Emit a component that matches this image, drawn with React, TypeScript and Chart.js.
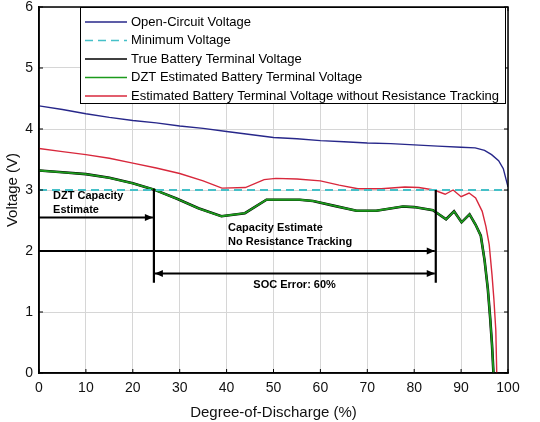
import { useEffect, useRef } from "react";
import { Chart, registerables } from "chart.js";

Chart.register(...registerables);

// open-circuit voltage
const ocvDod = [0, 5, 10, 15, 20, 25, 30, 35, 40, 45, 50, 55, 60, 65, 70, 75, 80, 85, 90, 93, 95, 96.5, 98, 99, 100];
const ocvVolt = [4.38, 4.32, 4.25, 4.19, 4.14, 4.1, 4.05, 4.01, 3.96, 3.91, 3.86, 3.84, 3.81, 3.79, 3.77, 3.76, 3.74, 3.72, 3.7, 3.69, 3.65, 3.58, 3.48, 3.35, 3.05];

// minimum voltage
const minDod = [0, 100];
const minVolt = [3.0, 3.0];

// true terminal voltage
const trueDod = [0, 5, 10, 15, 20, 24.4, 29.3, 34, 38.9, 43.9, 48.5, 55.6, 58.4, 63, 67.7, 71.9, 77.6, 80, 84, 86.8, 88.5, 90.1, 91.8, 93.1, 94.2, 95, 95.7, 96.2, 96.6, 96.9];
const trueVolt = [3.32, 3.29, 3.26, 3.2, 3.11, 3.01, 2.86, 2.7, 2.57, 2.62, 2.84, 2.84, 2.82, 2.74, 2.66, 2.66, 2.73, 2.72, 2.67, 2.52, 2.65, 2.47, 2.6, 2.43, 2.25, 1.85, 1.38, 0.9, 0.45, 0];

// DZT estimate
const dztDod = [0, 5, 10, 15, 20, 24.4, 29.3, 34, 38.9, 43.9, 48.5, 55.6, 58.4, 63, 67.7, 71.9, 77.6, 80, 84, 86.8, 88.5, 90.1, 91.8, 93.1, 94.2, 95, 95.7, 96.2, 96.6, 96.9];
const dztVolt = [3.32, 3.29, 3.26, 3.2, 3.11, 3.01, 2.86, 2.7, 2.57, 2.62, 2.84, 2.84, 2.82, 2.74, 2.66, 2.66, 2.73, 2.72, 2.67, 2.52, 2.65, 2.47, 2.6, 2.43, 2.25, 1.85, 1.38, 0.9, 0.45, 0];

// estimate without resistance tracking
const estDod = [0, 5, 10, 15, 20, 25, 30, 35, 39, 44, 48, 50.5, 55, 60, 64, 68, 73, 78, 81, 84.2, 86.6, 88.3, 90, 91.7, 93.1, 94.5, 95.3, 96, 96.6, 97, 97.4, 97.6];
const estVolt = [3.68, 3.63, 3.58, 3.52, 3.44, 3.36, 3.27, 3.15, 3.03, 3.04, 3.17, 3.19, 3.18, 3.15, 3.08, 3.02, 3.02, 3.05, 3.04, 3.0, 2.93, 3.0, 2.89, 2.95, 2.87, 2.65, 2.4, 2.1, 1.6, 1.2, 0.7, 0];

const dztCapacity = 24.5;
const noRtCapacity = 84.6;

const xTicks = [0, 100, 10];
const yTicks = [0, 6, 1];

const pts = (xs: number[], ys: number[]) => xs.map((x, i) => ({ x, y: ys[i] }));

const legendLabels = [
  "Open-Circuit Voltage",
  "Minimum Voltage",
  "True Battery Terminal Voltage",
  "DZT Estimated Battery Terminal Voltage",
  "Estimated Battery Terminal Voltage without Resistance Tracking",
];

const colors = {
  ocv: "#27278a",
  min: "#45c0c8",
  true: "#000000",
  dzt: "#1c9a1c",
  est: "#d8283c",
};

const annoFont = 'bold 11px "Liberation Sans Narrow", "Liberation Sans", Arial, sans-serif';

function arrow(ctx: CanvasRenderingContext2D, x1: number, x2: number, y: number, both: boolean) {
  ctx.beginPath();
  ctx.moveTo(x1, y);
  ctx.lineTo(x2, y);
  ctx.stroke();
  const head = (tip: number, dir: number) => {
    ctx.beginPath();
    ctx.moveTo(tip, y);
    ctx.lineTo(tip - dir * 8, y - 3.5);
    ctx.lineTo(tip - dir * 8, y + 3.5);
    ctx.closePath();
    ctx.fill();
  };
  head(x2, 1);
  if (both) head(x1, -1);
}

const extras = {
  id: "extras",
  afterDatasetsDraw(chart: any) {
    const { ctx, chartArea: a, scales } = chart;
    const xs = scales.x;
    const ys = scales.y;
    ctx.save();

    // annotations
    ctx.strokeStyle = "#000";
    ctx.fillStyle = "#000";
    ctx.lineWidth = 2.2;
    const xd = xs.getPixelForValue(dztCapacity);
    const xn = xs.getPixelForValue(noRtCapacity);
    ctx.beginPath();
    ctx.moveTo(xd, ys.getPixelForValue(3.02));
    ctx.lineTo(xd, ys.getPixelForValue(1.48));
    ctx.moveTo(xn, ys.getPixelForValue(3.0));
    ctx.lineTo(xn, ys.getPixelForValue(1.48));
    ctx.stroke();
    ctx.lineWidth = 2;
    arrow(ctx, a.left, xd - 1, ys.getPixelForValue(2.55), false);
    arrow(ctx, a.left, xn - 1, ys.getPixelForValue(2.0), false);
    arrow(ctx, xd + 1, xn - 1, ys.getPixelForValue(1.63), true);

    ctx.font = annoFont;
    ctx.textBaseline = "middle";
    ctx.textAlign = "left";
    ctx.fillText("DZT Capacity", xs.getPixelForValue(3), ys.getPixelForValue(2.9));
    ctx.fillText("Estimate", xs.getPixelForValue(3), ys.getPixelForValue(2.67));
    ctx.fillText("Capacity Estimate", xs.getPixelForValue(40.3), ys.getPixelForValue(2.38));
    ctx.fillText("No Resistance Tracking", xs.getPixelForValue(40.3), ys.getPixelForValue(2.15));
    ctx.textAlign = "center";
    ctx.fillText("SOC Error: 60%", xs.getPixelForValue(54.5), ys.getPixelForValue(1.44));

    // axes box with inward ticks
    ctx.lineWidth = 1.5;
    ctx.strokeRect(a.left, a.top, a.right - a.left, a.bottom - a.top);
    ctx.lineWidth = 1;
    ctx.beginPath();
    for (let v = xTicks[0]; v <= xTicks[1]; v += xTicks[2]) {
      const p = xs.getPixelForValue(v);
      ctx.moveTo(p, a.bottom);
      ctx.lineTo(p, a.bottom - 4);
      ctx.moveTo(p, a.top);
      ctx.lineTo(p, a.top + 4);
    }
    for (let v = yTicks[0]; v <= yTicks[1]; v += yTicks[2]) {
      const p = ys.getPixelForValue(v);
      ctx.moveTo(a.left, p);
      ctx.lineTo(a.left + 4, p);
      ctx.moveTo(a.right, p);
      ctx.lineTo(a.right - 4, p);
    }
    ctx.stroke();

    // legend
    const lx = 80;
    const ly = a.top;
    const lw = 425;
    const lh = 96;
    ctx.fillStyle = "#fff";
    ctx.fillRect(lx, ly, lw, lh);
    ctx.strokeStyle = "#000";
    ctx.lineWidth = 1;
    ctx.strokeRect(lx + 0.5, ly + 0.5, lw, lh);
    ctx.font = '13px "Liberation Sans", Arial, sans-serif';
    ctx.textAlign = "left";
    chart.data.datasets.forEach((ds: any, i: number) => {
      const y = ly + 15 + i * 18.5;
      ctx.strokeStyle = ds.borderColor;
      ctx.lineWidth = 1.5;
      ctx.setLineDash(ds.borderDash || []);
      ctx.beginPath();
      ctx.moveTo(lx + 5, y);
      ctx.lineTo(lx + 47, y);
      ctx.stroke();
      ctx.setLineDash([]);
      ctx.fillStyle = "#000";
      ctx.fillText(legendLabels[i], lx + 51, y);
    });
    ctx.restore();
  },
};

export default function App() {
  const ref = useRef<HTMLCanvasElement>(null);

  useEffect(() => {
    if (!ref.current) return;
    const tickFont = { family: '"Liberation Sans", Arial, sans-serif', size: 14 };
    const chart = new Chart(ref.current, {
      type: "line",
      data: {
        datasets: [
          { label: legendLabels[0], data: pts(ocvDod, ocvVolt), borderColor: colors.ocv, borderWidth: 1.4, order: 1 },
          { label: legendLabels[1], data: pts(minDod, minVolt), borderColor: colors.min, borderWidth: 2, borderDash: [8, 5], order: 0 },
          { label: legendLabels[2], data: pts(trueDod, trueVolt), borderColor: colors.true, borderWidth: 2.6, order: 3 },
          { label: legendLabels[3], data: pts(dztDod, dztVolt), borderColor: colors.dzt, borderWidth: 1.8, order: 2 },
          { label: legendLabels[4], data: pts(estDod, estVolt), borderColor: colors.est, borderWidth: 1.4, order: 1 },
        ],
      },
      options: {
        animation: false,
        responsive: true,
        maintainAspectRatio: false,
        layout: { padding: { top: 7, right: 32, left: 0, bottom: 0 } },
        elements: { point: { radius: 0 }, line: { tension: 0 } },
        plugins: { legend: { display: false }, tooltip: { enabled: false } },
        scales: {
          x: {
            type: "linear",
            min: xTicks[0],
            max: xTicks[1],
            ticks: { stepSize: xTicks[2], color: "#111", font: tickFont, padding: 7, maxRotation: 0 },
            grid: { color: "#d6d6d6", drawTicks: false },
            border: { color: "#000", width: 1.5 },
            title: { display: true, text: "Degree-of-Discharge (%)", color: "#111", font: { ...tickFont, size: 15 }, padding: { top: 2, bottom: 0 } },
            afterFit: (s: any) => {
              s.height = 49;
              s.paddingLeft = 0;
              s.paddingRight = 0;
            },
          },
          y: {
            min: yTicks[0],
            max: yTicks[1],
            ticks: { stepSize: yTicks[2], color: "#111", font: tickFont, padding: 6 },
            grid: { color: "#d6d6d6", drawTicks: false },
            border: { color: "#000", width: 1.5 },
            title: { display: true, text: "Voltage (V)", color: "#111", font: { ...tickFont, size: 15 }, padding: { top: 4, bottom: 0 } },
            afterFit: (s: any) => {
              s.width = 39;
              s.paddingTop = 0;
              s.paddingBottom = 0;
            },
          },
        },
      },
      plugins: [extras],
    });
    return () => {
      chart.destroy();
    };
  }, []);

  return (
    <div style={{ position: "fixed", left: 0, top: 0, width: 540, height: 422, background: "#fff" }}>
      <canvas ref={ref} />
    </div>
  );
}
